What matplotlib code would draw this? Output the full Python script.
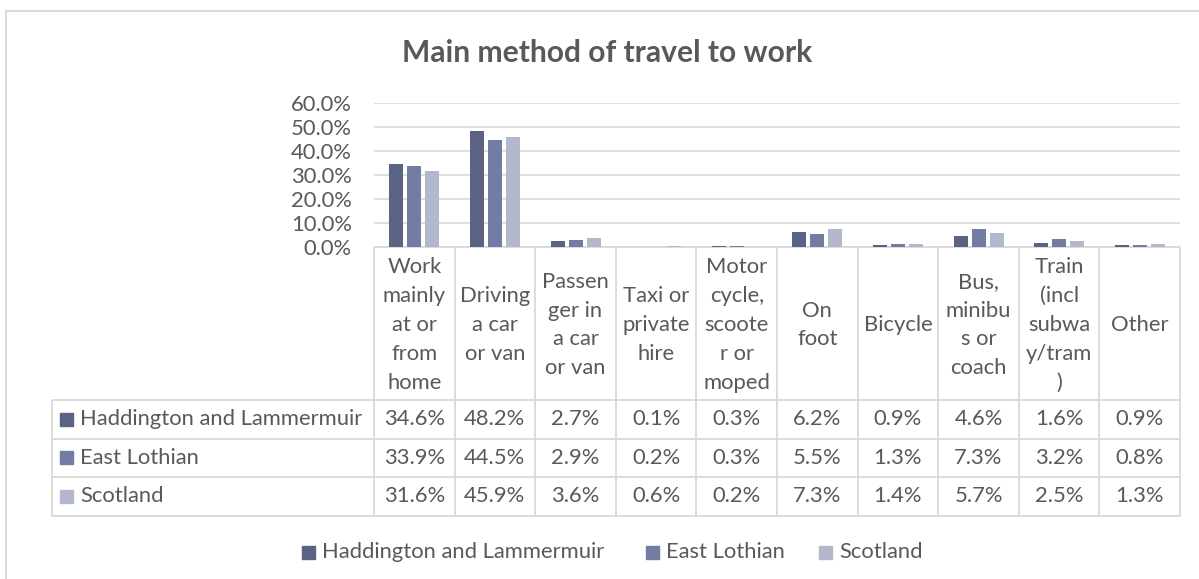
import matplotlib.pyplot as plt
from matplotlib.patches import Rectangle

categories = [
    "Work\nmainly\nat or\nfrom\nhome",
    "Driving\na car\nor van",
    "Passen\nger in\na car\nor van",
    "Taxi or\nprivate\nhire",
    "Motor\ncycle,\nscoote\nr or\nmoped",
    "On\nfoot",
    "Bicycle",
    "Bus,\nminibu\ns or\ncoach",
    "Train\n(incl\nsubwa\ny/tram\n)",
    "Other",
]
series_names = ["Haddington and Lammermuir", "East Lothian", "Scotland"]
haddington = [34.6, 48.2, 2.7, 0.1, 0.3, 6.2, 0.9, 4.6, 1.6, 0.9]
east_lothian = [33.9, 44.5, 2.9, 0.2, 0.3, 5.5, 1.3, 7.3, 3.2, 0.8]
scotland = [31.6, 45.9, 3.6, 0.6, 0.2, 7.3, 1.4, 5.7, 2.5, 1.3]
series = [haddington, east_lothian, scotland]
colors = ["#5b6384", "#737ca2", "#b4b8cd"]
y_ticks = [0, 10, 20, 30, 40, 50, 60]

W, H = 1199, 579
TXT = "#595959"
GRID = "#d9d9d9"
FS = 15.8

plt.rcParams["font.family"] = ["Lato", "DejaVu Sans"]

fig = plt.figure(figsize=(W / 100, H / 100), dpi=100)

# pixel-space overlay for table, frame, title and legend
ov = fig.add_axes([0, 0, 1, 1])
ov.set_xlim(0, W)
ov.set_ylim(H, 0)
ov.axis("off")

# table geometry (pixels)
x0, x1 = 374, 1180
lab_x = 52
y_axis, y_hdr = 247, 400
row_lines = [400, 438.5, 477, 516]
n = len(categories)
cw = (x1 - x0) / n

# bar chart axes sits directly above the category header row
ax = fig.add_axes([x0 / W, (H - y_axis) / H, (x1 - x0) / W, (y_axis - 103) / H])
ax.set_xlim(-0.5, n - 0.5)
ax.set_ylim(0, 60)
bw = 14 / cw
step = 18 / cw
for k, (vals, col) in enumerate(zip(series, colors)):
    ax.bar([i + (k - 1) * step for i in range(n)], vals, width=bw, color=col, zorder=3)
ax.set_yticks(y_ticks)
ax.set_yticklabels([f"{t:.1f}%" for t in y_ticks], color=TXT, fontsize=FS)
ax.tick_params(axis="y", length=0, pad=16)
ax.set_xticks([])
ax.grid(axis="y", color=GRID, lw=1.2, zorder=0)
for s in ax.spines.values():
    s.set_visible(False)
ax.set_facecolor("none")

# outer chart frame (top and left edges visible)
ov.plot([6, W], [11, 11], color=GRID, lw=1.5)
ov.plot([6, 6], [11, H], color=GRID, lw=1.5)

ov.text(607, 53, "Main method of travel to work", ha="center", va="center",
        fontsize=21.6, fontweight="bold", color=TXT)

# table grid
lkw = dict(color=GRID, lw=1.3, solid_capstyle="butt")
ov.plot([x0, x1], [y_axis, y_axis], **lkw)
for y in row_lines:
    ov.plot([lab_x, x1], [y, y], **lkw)
ov.plot([lab_x, lab_x], [y_hdr, row_lines[-1]], **lkw)
for i in range(n + 1):
    xv = x0 + i * cw
    ov.plot([xv, xv], [y_axis, row_lines[-1]], **lkw)

# category header text, one line at a time
line_h = 28.8
yc = (y_axis + y_hdr) / 2 + 1.5
for i, cat in enumerate(categories):
    lines = cat.split("\n")
    xc = x0 + (i + 0.5) * cw
    for j, ln in enumerate(lines):
        yy = yc + (j - (len(lines) - 1) / 2) * line_h
        ov.text(xc, yy, ln, ha="center", va="center", fontsize=FS, color=TXT)

# data rows
for r, (name, vals, col) in enumerate(zip(series_names, series, colors)):
    ym = (row_lines[r] + row_lines[r + 1]) / 2
    ov.add_patch(Rectangle((60, ym - 6.5), 13, 13, color=col))
    ov.text(80, ym, name, ha="left", va="center", fontsize=FS, color=TXT)
    for i, v in enumerate(vals):
        ov.text(x0 + (i + 0.5) * cw, ym, f"{v:.1f}%", ha="center", va="center",
                fontsize=FS, color=TXT)

# legend below the table
leg_x = [302, 646, 819]
for name, col, lx in zip(series_names, colors, leg_x):
    ov.add_patch(Rectangle((lx, 552 - 6.5), 13, 13, color=col))
    ov.text(lx + 20, 552, name, ha="left", va="center", fontsize=FS, color=TXT)

fig.savefig("out.png", dpi=100)
